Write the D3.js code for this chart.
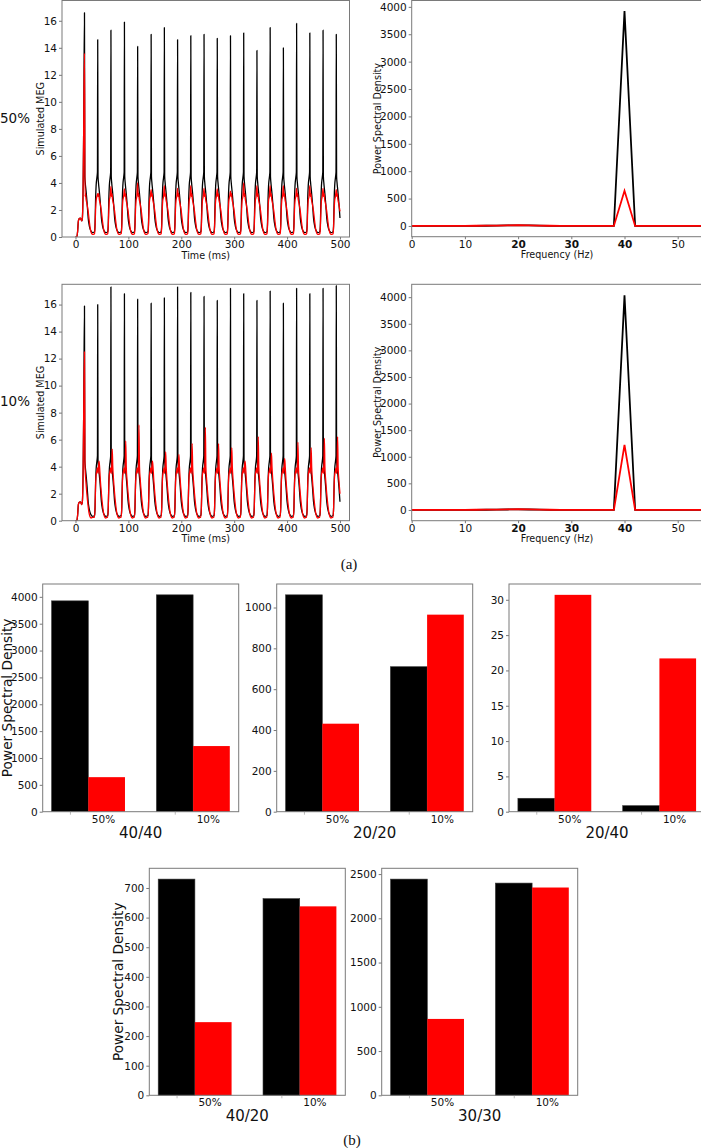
<!DOCTYPE html>
<html><head><meta charset="utf-8">
<script src="https://cdn.jsdelivr.net/npm/d3@7"></script>
<style>
body{margin:0;background:#fff}
svg{display:block;background:#fff}
text{font-family:"DejaVu Sans",sans-serif;fill:#111}
</style>
</head><body><svg id="c" width="701" height="1148"></svg>
<script>
// ---------------- DATA ----------------
// Simulated MEG: spike times (ms) and peak heights per cycle
const peakTimes = [17,42,67,92.5,117.5,143,168,193,218,243,268,293,318,343,368,393,418,443,468,493];
const meg50Black = [16.6,14.6,15.3,15.9,14.1,15.0,15.5,14.6,14.9,15.0,14.7,14.9,15.1,13.8,15.5,14.0,15.8,15.1,15.3,15.0];
const meg50Red   = [13.6,3.2,3.75,3.55,4.0,3.5,3.8,3.6,3.8,3.6,3.55,3.4,4.0,3.8,3.8,3.8,3.6,3.8,3.6,3.5];
const meg10Black = [15.9,16.0,17.3,16.8,16.4,16.1,16.5,17.3,16.9,16.6,16.3,17.2,16.8,16.3,17.0,16.1,17.2,16.8,17.2,17.4];
const meg10Red   = [12.5,4.4,5.3,5.9,7.1,4.4,5.1,4.9,5.7,6.9,5.7,5.4,4.4,6.2,5.0,4.6,5.8,5.4,6.1,6.2];
// onset segment (ms, value), "H" = first peak
const onsetShape = [[0,0],[2.5,0],[4,0.4],[5.5,1.2],[7,1.35],[9,1.4],[10.5,1.3],[12,1.2],[13,1.4],[14.5,4],[15.5,8],[17,"H"]];
// cycle shapes (offset from spike in ms, value)
const blackCycle = [[-6,0.4],[-5,1.0],[-4,2.8],[-3,3.8],[-1.5,4.4],[-0.5,4.8],[0,"H"],[0.6,4.5],[1.5,4.0],[3,3.4],[5,2.5],[7,1.4],[9,0.85],[11,0.55],[13,0.4],[15,0.32],[18,0.35]];
const red50Cycle = [[-6,0.25],[-5,0.8],[-4,2.0],[-3,2.7],[-1.5,3.0],[0,"H"],[1,3.0],[2,3.2],[3,2.8],[5,2.4],[7,1.9],[9,1.2],[11,0.6],[13,0.3],[15,0.2],[18,0.22]];
const red10Cycle = [[-6,0.25],[-5,1.0],[-4,2.6],[-3,3.4],[-1.5,3.7],[-0.5,3.9],[0.5,3.5],[1.5,4.0],[2.5,"H"],[3.5,4.0],[5,3.0],[7,2.0],[9,1.2],[11,0.6],[13,0.3],[15,0.2],[18,0.25]];
const timeTicks = [0,100,200,300,400,500];
const megTicks = [0,2,4,6,8,10,12,14,16];

// Power spectral density (2 Hz bins)
const freqs = [0,2,4,6,8,10,12,14,16,18,20,22,24,26,28,30,32,34,36,38,40,42,44,46,48,50,52,54,56];
const psd50Black = [0,0,0,1,1,2,3,4,6,9,12,9,5,3,2,1,1,1,0,0,3925,0,0,0,0,0,0,0,0];
const psd50Red   = [0,0,0,1,2,3,4,6,8,12,16,12,7,4,3,2,1,1,0,0,643,0,0,0,0,0,0,0,0];
const psd10Black = [0,0,0,1,1,2,3,4,6,9,12,9,5,3,2,1,1,1,0,0,4037,0,0,0,0,0,0,0,0];
const psd10Red   = [0,0,0,1,2,3,4,6,8,12,16,12,7,4,3,2,1,1,0,0,1222,0,0,0,0,0,0,0,0];
const freqTicks = [0,10,20,30,40,50];
const boldFreqTicks = [20,30,40];
const psdTicks = [0,500,1000,1500,2000,2500,3000,3500,4000];

// Bar charts (b)
const groups = ["50%","10%"];
const bars4040Black = [3925,4037], bars4040Red = [643,1222];
const bars2020Black = [1062,710],  bars2020Red = [431,965];
const bars2040Black = [1.9,0.85],  bars2040Red = [30.7,21.7];
const bars4020Black = [730,664],   bars4020Red = [247,638];
const bars3030Black = [2443,2398], bars3030Red = [863,2348];
const ticks4040 = [0,500,1000,1500,2000,2500,3000,3500,4000];
const ticks2020 = [0,200,400,600,800,1000];
const ticks2040 = [0,5,10,15,20,25,30];
const ticks4020 = [0,100,200,300,400,500,600,700];
const ticks3030 = [0,500,1000,1500,2000,2500];

// ---------------- DRAWING ----------------
const svg = d3.select("#c");
const FRAME = "#7a7a7a", TICK = "#555";
const fmt = d => String(d);
let clipId = 0;

function buildTrace(heights, cycle){
  const pts = [];
  const hOff = cycle.find(d=>d[1]==="H")[0];
  peakTimes.forEach((pt,k)=>{
    if(k===0){
      onsetShape.forEach(([t,v])=>pts.push([t, v==="H"?heights[0]:v]));
      cycle.filter(d=>d[0]>hOff).forEach(([dt,v])=>pts.push([pt+dt-hOff, v]));
    } else {
      cycle.forEach(([dt,v])=>pts.push([pt+dt, v==="H"?heights[k]:v]));
    }
  });
  return pts.filter(p=>p[0]<=500);
}

function styleAxis(g, fs){
  g.selectAll(".domain").remove();
  g.selectAll(".tick line").attr("stroke",TICK).attr("stroke-width",0.8);
  g.selectAll(".tick text").attr("fill","#111").style("font-size",fs+"px").style("font-family","DejaVu Sans");
}

function frame(l,t,r,b){
  svg.append("rect").attr("x",l).attr("y",t).attr("width",r-l).attr("height",b-t)
    .attr("fill","none").attr("stroke",FRAME).attr("stroke-width",1);
}

function clip(l,t,r,b){
  const id = "clip"+(clipId++);
  svg.append("clipPath").attr("id",id).append("rect").attr("x",l).attr("y",t).attr("width",r-l).attr("height",b-t);
  return "url(#"+id+")";
}

function drawMEG(top, bottom, blackH, redH, redCycle){
  const l=62, r=349.5;
  const x = d3.scaleLinear().domain([-25.5,518]).range([l,r]);
  const y = d3.scaleLinear().domain([0,17.5]).range([bottom,top]);
  const gx = svg.append("g").attr("transform",`translate(0,${bottom})`)
    .call(d3.axisBottom(x).tickValues(timeTicks).tickFormat(fmt).tickSize(2.5).tickPadding(1.5));
  styleAxis(gx,10.5);
  const gy = svg.append("g").attr("transform",`translate(${l},0)`)
    .call(d3.axisLeft(y).tickValues(megTicks).tickFormat(fmt).tickSize(3).tickPadding(2));
  styleAxis(gy,10.5);
  const cp = clip(l,top,r,bottom);
  const line = d3.line().x(d=>x(d[0])).y(d=>y(d[1])).curve(d3.curveMonotoneX);
  svg.append("path").attr("clip-path",cp).attr("d",line(buildTrace(blackH,blackCycle)))
    .attr("fill","none").attr("stroke","#000").attr("stroke-width",1.3).attr("stroke-linejoin","round");
  svg.append("path").attr("clip-path",cp).attr("d",line(buildTrace(redH,redCycle)))
    .attr("fill","none").attr("stroke","#ff0000").attr("stroke-width",1.3).attr("stroke-linejoin","round");
  frame(l,top,r,bottom);
  svg.append("text").attr("x",(l+r)/2).attr("y",bottom+21.5).attr("text-anchor","middle")
    .style("font-size","9.6px").text("Time (ms)");
  svg.append("text").attr("transform",`translate(44,${(top+bottom)/2}) rotate(-90)`).attr("text-anchor","middle")
    .style("font-size","9.6px").text("Simulated MEG");
}

function drawPSD(top, bottom, yDom, black, red){
  const l=411.7, r=704.3;
  const x = d3.scaleLinear().domain([0,55]).range([l,r]);
  const y = d3.scaleLinear().domain(yDom).range([bottom,top]);
  const gx = svg.append("g").attr("transform",`translate(0,${bottom})`)
    .call(d3.axisBottom(x).tickValues(freqTicks).tickFormat(fmt).tickSize(2.5).tickPadding(1.5));
  styleAxis(gx,10.5);
  gx.selectAll(".tick text").style("font-weight",d=>boldFreqTicks.includes(d)?"bold":"normal");
  const gy = svg.append("g").attr("transform",`translate(${l},0)`)
    .call(d3.axisLeft(y).tickValues(psdTicks).tickFormat(fmt).tickSize(3).tickPadding(2));
  styleAxis(gy,10.5);
  const cp = clip(l,top,r,bottom);
  const line = d3.line().x((d,i)=>x(freqs[i])).y(d=>y(d));
  svg.append("path").attr("clip-path",cp).attr("d",line(black))
    .attr("fill","none").attr("stroke","#000").attr("stroke-width",1.8).attr("stroke-linejoin","miter");
  svg.append("path").attr("clip-path",cp).attr("d",line(red))
    .attr("fill","none").attr("stroke","#ff0000").attr("stroke-width",1.8);
  frame(l,top,r,bottom);
  svg.append("text").attr("x",557).attr("y",bottom+21.5).attr("text-anchor","middle")
    .style("font-size","9.6px").text("Frequency (Hz)");
  svg.append("text").attr("transform",`translate(381,${(top+bottom)/2}) rotate(-90)`).attr("text-anchor","middle")
    .style("font-size","9.6px").text("Power Spectral Density");
}

function drawBars(l, top, bottom, black, red, ticks, xlabel, ylabelX){
  const w = 196;
  const x = d3.scaleLinear().domain([-0.26,1.61]).range([l,l+w]);
  const yMax = Math.max(d3.max(black),d3.max(red))*1.05;
  const y = d3.scaleLinear().domain([0,yMax]).range([bottom,top]);
  const bw = 0.35;
  svg.selectAll(null).data(black).enter().append("rect")
    .attr("x",(d,i)=>x(i-bw/2)).attr("width",x(bw)-x(0))
    .attr("y",d=>y(d)).attr("height",d=>y(0)-y(d))
    .attr("fill","#000").attr("stroke","#333").attr("stroke-width",0.6);
  svg.selectAll(null).data(red).enter().append("rect")
    .attr("x",(d,i)=>x(i+bw/2)).attr("width",x(bw)-x(0))
    .attr("y",d=>y(d)).attr("height",d=>y(0)-y(d))
    .attr("fill","#ff0000");
  const gx = svg.append("g").attr("transform",`translate(0,${bottom})`)
    .call(d3.axisBottom(x).tickValues([0,1]).tickFormat("").tickSize(3));
  styleAxis(gx,10.5);
  gx.selectAll(".tick line").attr("stroke","#aaa");
  svg.selectAll(null).data(groups).enter().append("text")
    .attr("x",(d,i)=>x(i+0.32)).attr("y",bottom+11).attr("text-anchor","middle")
    .style("font-size","10.5px").text(d=>d);
  const gy = svg.append("g").attr("transform",`translate(${l},0)`)
    .call(d3.axisLeft(y).tickValues(ticks).tickFormat(fmt).tickSize(3).tickPadding(2));
  styleAxis(gy,10.5);
  frame(l,top,l+w,bottom);
  svg.append("text").attr("x",l+w/2).attr("y",bottom+26).attr("text-anchor","middle")
    .style("font-size","15px").text(xlabel);
  if(ylabelX!==undefined){
    svg.append("text").attr("transform",`translate(${ylabelX},${(top+bottom)/2}) rotate(-90)`).attr("text-anchor","middle")
      .style("font-size","13.7px").text("Power Spectral Density");
  }
}

// (a)
drawMEG(0.5, 237, meg50Black, meg50Red, red50Cycle);
drawPSD(0.5, 236.7, [-196,4116], psd50Black, psd50Red);
drawMEG(284.3, 520.7, meg10Black, meg10Red, red10Cycle);
drawPSD(284.3, 520.7, [-202,4242], psd10Black, psd10Red);
svg.append("text").attr("x",0).attr("y",123).style("font-size","13.5px").text("50%");
svg.append("text").attr("x",0).attr("y",406).style("font-size","13.5px").text("10%");
svg.append("text").attr("x",349).attr("y",569).attr("text-anchor","middle")
  .style("font-family","'Liberation Serif',serif").style("font-size","15px").text("(a)");

// (b)
drawBars(42.7, 584, 811.7, bars4040Black, bars4040Red, ticks4040, "40/40", 12);
drawBars(276.7, 584, 811.7, bars2020Black, bars2020Red, ticks2020, "20/20");
drawBars(509, 584, 811.7, bars2040Black, bars2040Red, ticks2040, "20/40");
drawBars(149.3, 868.3, 1095.3, bars4020Black, bars4020Red, ticks4020, "40/20", 123);
drawBars(381.7, 868.3, 1095.3, bars3030Black, bars3030Red, ticks3030, "30/30");
svg.append("text").attr("x",352).attr("y",1145).attr("text-anchor","middle")
  .style("font-family","'Liberation Serif',serif").style("font-size","15px").text("(b)");
</script>
</body></html>
